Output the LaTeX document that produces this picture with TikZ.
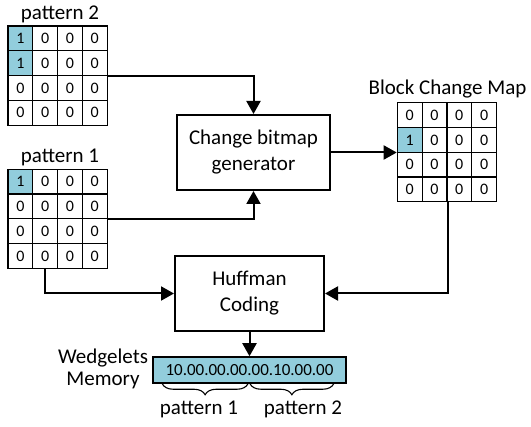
\documentclass[tikz,border=0pt]{standalone}
\usepackage{fontspec}
\setmainfont{Carlito}
\usetikzlibrary{arrows.meta,decorations.pathreplacing}
\definecolor{cellblue}{HTML}{92CDDC}
\tikzset{
  cell/.style={draw, line width=1.2pt, minimum width=24.8pt, minimum height=24.8pt,
    inner sep=0pt, font=\fontsize{16}{16}\selectfont},
  on/.style={fill=cellblue},
  block/.style={draw, line width=2pt, align=center, inner sep=0pt,
    font=\fontsize{21}{26}\selectfont},
  lbl/.style={font=\fontsize{21}{22}\selectfont, inner sep=0pt},
  link/.style={line width=2pt},
  flow/.style={line width=2pt, -{Triangle[length=13pt,width=14pt]}},
  brc/.style={decorate, decoration={brace, mirror, amplitude=11pt}, line width=1.1pt}
}
% 4x4 bit grid: name, left x, top y, rows of values
\newcommand\bitgrid[4]{%
  \foreach \vals [count=\r] in {#4} {
    \foreach \v [count=\c] in \vals {
      \ifnum\v=1 \def\cellst{on}\else\def\cellst{}\fi
      \node[cell,\cellst] (#1-\r-\c) at ({#2+(\c-0.5)*24.8},{#3+(\r-0.5)*24.8}) {\v};
    }
  }%
}
\begin{document}
\begin{tikzpicture}[x=1pt,y=-1pt]
  \useasboundingbox (0,0) rectangle (531,427);

  % input patterns and the change map
  \bitgrid{p2}{8}{26}{{1,0,0,0},{1,0,0,0},{0,0,0,0},{0,0,0,0}}
  \bitgrid{p1}{8}{169.3}{{1,0,0,0},{0,0,0,0},{0,0,0,0},{0,0,0,0}}
  \bitgrid{bcm}{397.3}{102.7}{{0,0,0,0},{1,0,0,0},{0,0,0,0},{0,0,0,0}}

  \node[lbl, anchor=base] (t2) at (60,19.5) {pattern 2};
  \node[lbl, anchor=base] (t1) at (60,163) {pattern 1};
  \node[lbl, anchor=base] (tm) at (447.5,94.5) {Block Change Map};

  % processing blocks
  \node[block, minimum width=153pt, minimum height=75pt] (cbg) at (253.5,152.5)
    {Change bitmap\\generator};
  \node[block, minimum width=149pt, minimum height=75pt] (huff) at (249.5,293.5)
    {Huffman\\Coding};

  % memory word
  \node[draw, fill=cellblue, line width=1.5pt, minimum width=193pt, minimum height=26pt,
    inner sep=0pt, font=\fontsize{17}{17}\selectfont] (mem) at (249.5,370)
    {10.00.00.00.00.10.00.00};
  \node[lbl, align=center, font=\fontsize{21}{22}\selectfont] (wm) at (103,369)
    {Wedgelets\\Memory};

  % connectors
  \draw[flow] (p2-2-4.south east) -| (cbg.north);
  \draw[flow] (p1-2-4.south east) -| (cbg.south);
  \draw[flow] (cbg.east) -- (bcm-2-1.south west |- cbg.east);
  \draw[flow] (bcm-4-2.south east) |- (huff.east);
  \draw[flow] (p1-4-2.south) |- (huff.west);
  \draw[flow] (huff.south) -- (mem.north);

  % braces under the memory word
  \coordinate (b1s) at ([xshift=10pt]mem.south west);
  \coordinate (b1e) at ([xshift=-1.5pt]mem.south);
  \coordinate (b2s) at ([xshift=0.5pt]mem.south);
  \coordinate (b2e) at ([xshift=-13pt]mem.south east);
  \draw[brc] (b1s) -- (b1e);
  \draw[brc] (b2s) -- (b2e);
  \node[lbl, anchor=base] (bp1) at (199,415) {pattern 1};
  \node[lbl, anchor=base] (bp2) at (303,415) {pattern 2};
\end{tikzpicture}
\end{document}
